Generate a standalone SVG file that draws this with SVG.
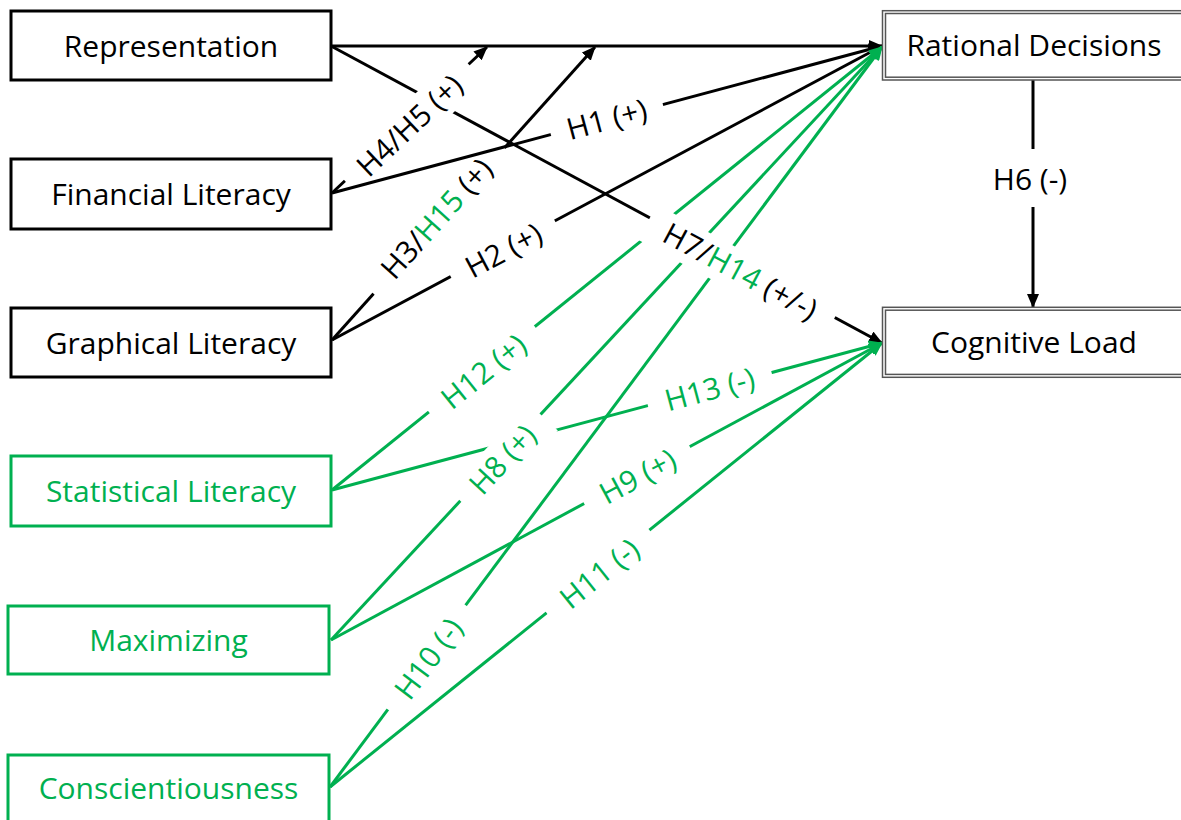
<svg xmlns="http://www.w3.org/2000/svg" width="1181" height="820" viewBox="0 0 1181 820">
<style>
text{font-family:"Open Sans","Liberation Sans",sans-serif;font-size:30px;text-anchor:middle}
.bk{fill:#000}
.gn{fill:#00B050}
.nb{fill:#fff;stroke:#000;stroke-width:3}
.ng{fill:#fff;stroke:#00B050;stroke-width:3}
.dbl{fill:none;stroke:#555;stroke-width:1.5}
.lb{fill:none;stroke:#000;stroke-width:3;marker-end:url(#ab)}
.lg{fill:none;stroke:#00B050;stroke-width:3;marker-end:url(#ag)}
.bg{fill:#fff}
</style>
<defs>
<marker id="ab" viewBox="0 0 14 12" refX="13" refY="6" markerWidth="14" markerHeight="12" markerUnits="userSpaceOnUse" orient="auto"><path d="M0,0 L14,6 L0,12 z" fill="#000"/></marker>
<marker id="ag" viewBox="0 0 14 12" refX="13" refY="6" markerWidth="14" markerHeight="12" markerUnits="userSpaceOnUse" orient="auto"><path d="M0,0 L14,6 L0,12 z" fill="#00B050"/></marker>
</defs>
<rect width="1181" height="820" fill="#fff"/>

<g id="connectors">
  <path class="lb" d="M331,46 L882,46"/>
  <path class="lb" d="M331,46 L882,343"/>
  <path class="lb" d="M332,193 L487,47"/>
  <g transform="translate(410,126) rotate(-43.3)"><rect class="bg" x="-85" y="-20" width="170" height="40"/><text class="bk" y="10">H4/H5 (+)</text></g>
  <path class="lb" d="M332,340 L595,47"/>
  <g transform="translate(437,219) rotate(-48.1)"><rect class="bg" x="-98" y="-20" width="196" height="40"/><text class="bk" y="10">H3/<tspan class="gn">H15</tspan> (+)</text></g>
  <path class="lb" d="M332,193 L882,46"/>
  <g transform="translate(607,120) rotate(-15)"><rect class="bg" x="-58" y="-20" width="116" height="40"/><text class="bk" y="10">H1 (+)</text></g>
  <path class="lb" d="M332,340 L882,46"/>
  <g transform="translate(504,251) rotate(-28.1)"><rect class="bg" x="-59" y="-20" width="118" height="40"/><text class="bk" y="10">H2 (+)</text></g>
  <path class="lb" d="M1033,80 L1033,307"/>

  <path class="lg" d="M332,490 L882,47"/>
  <path class="lg" d="M332,490 L882,343"/>
  <path class="lg" d="M331,640 L882,47"/>
  <path class="lg" d="M331,640 L882,343"/>
  <path class="lg" d="M330,787 L882,47"/>
  <path class="lg" d="M330,787 L882,343"/>

  <g transform="translate(484,372) rotate(-38.8)"><rect class="bg" x="-68" y="-20" width="136" height="40"/><text class="gn" y="10">H12 (+)</text></g>
  <g transform="translate(710,390) rotate(-15)"><rect class="bg" x="-64" y="-20" width="128" height="40"/><text class="gn" y="10">H13 (-)</text></g>
  <g transform="translate(503,460) rotate(-47.1)"><rect class="bg" x="-59" y="-20" width="118" height="40"/><text class="gn" y="10">H8 (+)</text></g>
  <g transform="translate(638,477) rotate(-28.3)"><rect class="bg" x="-60" y="-20" width="120" height="40"/><text class="gn" y="10">H9 (+)</text></g>
  <g transform="translate(429,659) rotate(-53.3)"><rect class="bg" x="-65" y="-20" width="130" height="40"/><text class="gn" y="10">H10 (-)</text></g>
  <g transform="translate(600,574) rotate(-38.8)"><rect class="bg" x="-66" y="-20" width="132" height="40"/><text class="gn" y="10">H11 (-)</text></g>

  <g transform="translate(740,272) rotate(28.3)"><rect class="bg" x="-105" y="-20" width="210" height="40"/><text class="bk" y="10">H7/<tspan class="gn">H14</tspan> (+/-)</text></g>
  <g transform="translate(1030,178)"><rect class="bg" x="-45" y="-29" width="90" height="58"/><text class="bk" y="12">H6 (-)</text></g>
</g>

<g id="representation"><rect class="nb" x="11" y="11" width="320" height="69"/><text class="bk" x="171" y="57">Representation</text></g>
<g id="financial-literacy"><rect class="nb" x="11" y="159" width="320" height="70"/><text class="bk" x="171" y="205">Financial Literacy</text></g>
<g id="graphical-literacy"><rect class="nb" x="11" y="308" width="320" height="69"/><text class="bk" x="171" y="354">Graphical Literacy</text></g>
<g id="statistical-literacy"><rect class="ng" x="11" y="456" width="320" height="70"/><text class="gn" x="171" y="502">Statistical Literacy</text></g>
<g id="maximizing"><rect class="ng" x="8" y="606" width="321" height="68"/><text class="gn" x="168.5" y="651">Maximizing</text></g>
<g id="conscientiousness"><rect class="ng" x="8" y="755" width="321" height="69"/><text class="gn" x="168.5" y="799">Conscientiousness</text></g>
<g id="rational-decisions"><rect fill="#fff" x="882" y="10.7" width="304" height="69.3"/><rect class="dbl" x="882.5" y="10.7" width="304" height="69.3"/><rect class="dbl" x="885.5" y="13.5" width="300" height="63.7"/><text class="bk" x="1034" y="56">Rational Decisions</text></g>
<g id="cognitive-load"><rect fill="#fff" x="882" y="307.3" width="304" height="70"/><rect class="dbl" x="882.5" y="307.3" width="304" height="70"/><rect class="dbl" x="885.5" y="310.2" width="300" height="64.2"/><text class="bk" x="1034" y="353">Cognitive Load</text></g>
</svg>
